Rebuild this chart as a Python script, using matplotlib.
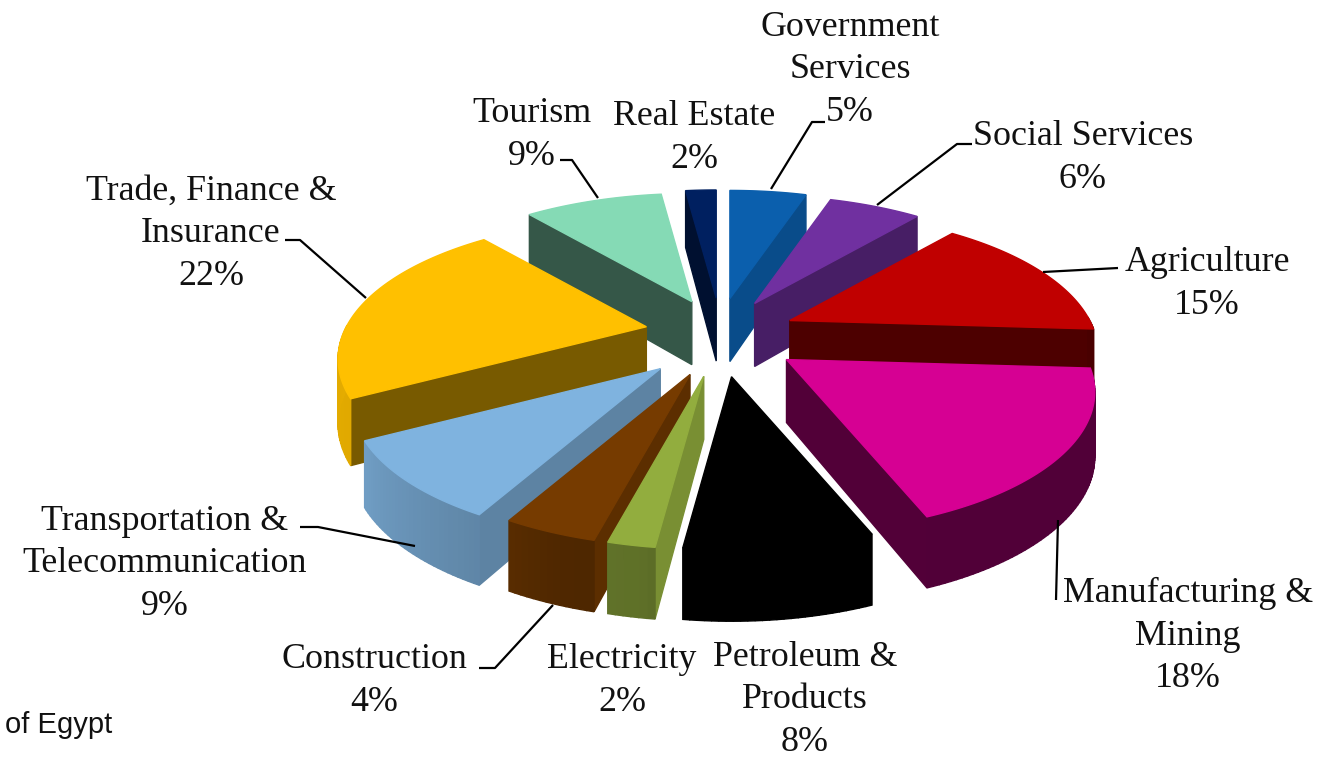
import numpy as np
import matplotlib
matplotlib.use("Agg")
import matplotlib.pyplot as plt
from matplotlib.colors import to_rgb

sectors = ["Government\nServices", "Social Services", "Agriculture", "Manufacturing &\nMining",
           "Petroleum &\nProducts", "Electricity", "Construction", "Transportation &\nTelecommunication",
           "Trade, Finance &\nInsurance", "Tourism", "Real Estate"]
shares = [5, 6, 15, 18, 8, 2, 4, 9, 22, 9, 2]
colors = ["#0B5FAD", "#7030A0", "#C00000", "#D60093", "#000000", "#92AD3E",
          "#763B00", "#7FB3DF", "#FFC000", "#85DAB5", "#002060"]

# label centres in pixels
label_pos = [(850, 70), (1083, 158), (1207, 284), (1188, 636), (805, 700), (622, 681),
             (374, 681), (165, 564), (211, 234), (532, 135), (694, 138)]
leaders = [
    [(771, 189), (812, 122), (825, 122)],
    [(877, 205), (957, 144), (972, 144)],
    [(1043, 272), (1118, 268)],
    [(1058, 520), (1056, 600)],
    [(553, 605), (495, 668), (479, 668)],
    [(415, 546), (318, 527), (300, 527)],
    [(366, 298), (300, 240), (285, 240)],
    [(598, 198), (572, 160), (560, 160)],
]

# fake 3d pie set up
cx, cy = 718, 342
rx, ry = 300, 133
persp = 0.23
explode_x, explode_back, explode_front = 76, 44, 35
depth = 63
# small per slice corrections, same order as shares
nudge_x = [0, 0, 2, 7, 4, 0, 0, -4, 3, 4, 3]
nudge_y = [0, 0, -4, -3, 0, 0, 0, 2, -7, 0, 0]

# brightness of the walls against the direction they face (degrees)
edge_ang = [60, 97, 104, 108, 119, 130, 151, 184, 230, 248, 263, 300]
edge_val = [.85, .83, .78, .80, .73, .63, .47, .40, .40, .38, .50, .50]
rim_ang = [90, 158, 190, 200, 209, 241, 280]
rim_val = [.38, .38, .65, .67, .75, .88, .90]


def project(ox, oy, u, v, down=0.0):
    w = 1.0 / (1.0 + persp * v)
    return ox + rx * u * w, oy - ry * v * w + down * w ** 0.5


def shade(color, k):
    return tuple(c * k for c in to_rgb(color))


def face(ax, xy, color):
    xs, ys = zip(*xy)
    ax.fill(xs, ys, color=color, lw=1.0, zorder=2)


fig = plt.figure(figsize=(13.25, 7.58), dpi=100)
ax = fig.add_axes([0, 0, 1, 1])
ax.set_xlim(0, 1325)
ax.set_ylim(758, 0)
ax.axis("off")

ends = np.cumsum(shares) * 3.6
starts = ends - np.array(shares) * 3.6
mids = (starts + ends) / 2

# painter's order, slices at the back first
for i in np.argsort(-np.cos(np.radians(mids))):
    t0, t1, col = starts[i], ends[i], colors[i]
    c = np.cos(np.radians(mids[i]))
    ox = cx + explode_x * np.sin(np.radians(mids[i])) + nudge_x[i]
    oy = cy - (explode_back if c > 0 else explode_front) * c + nudge_y[i]
    thetas = np.linspace(t0, t1, max(int(t1 - t0), 3))
    us = np.sin(np.radians(thetas))
    vs = np.cos(np.radians(thetas))

    # radial walls
    for edge, normal in ((t0, t0 - 90), (t1, t1 + 90)):
        if np.cos(np.radians(normal)) >= 0:
            continue
        eu, ev = np.sin(np.radians(edge)), np.cos(np.radians(edge))
        k = np.interp(normal % 360, edge_ang, edge_val)
        face(ax, [project(ox, oy, 0, 0), project(ox, oy, eu, ev),
                  project(ox, oy, eu, ev, depth), project(ox, oy, 0, 0, depth)], shade(col, k))

    # outer wall, one strip per step so the shade can change
    for j in range(len(thetas) - 1):
        tm = (thetas[j] + thetas[j + 1]) / 2
        if np.cos(np.radians(tm)) >= 0.02:
            continue
        k = np.interp(tm, rim_ang, rim_val)
        face(ax, [project(ox, oy, us[j], vs[j]), project(ox, oy, us[j + 1], vs[j + 1]),
                  project(ox, oy, us[j + 1], vs[j + 1], depth), project(ox, oy, us[j], vs[j], depth)],
             shade(col, k))

    top = [project(ox, oy, 0, 0)] + [project(ox, oy, a, b) for a, b in zip(us, vs)]
    face(ax, top, col)

for pts in leaders:
    xs, ys = zip(*pts)
    ax.plot(xs, ys, color="black", lw=1.6, zorder=3, solid_capstyle="butt")

for name, share, (x, y) in zip(sectors, shares, label_pos):
    ax.text(x, y, f"{name}\n{share}%", ha="center", va="center", family="Liberation Serif",
            fontsize=25.8, linespacing=1.38, color="#111111", zorder=4)

ax.text(5, 725, "of Egypt", ha="left", va="center", family="Liberation Sans", fontsize=21, color="#111111")

fig.savefig("out.png", dpi=100)
